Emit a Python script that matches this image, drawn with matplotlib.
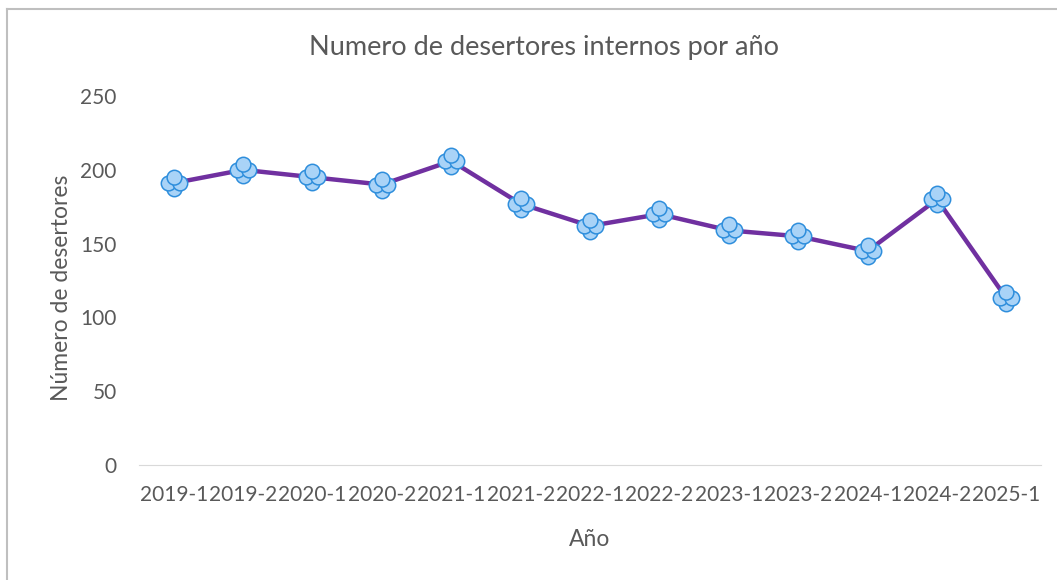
import numpy as np
import matplotlib

matplotlib.use("Agg")
import matplotlib.pyplot as plt
from matplotlib.path import Path
from matplotlib.lines import Line2D


periodos = ["2019-1", "2019-2", "2020-1", "2020-2", "2021-1", "2021-2", "2022-1",
            "2022-2", "2023-1", "2023-2", "2024-1", "2024-2", "2025-1"]
desertores = [191, 200, 195, 190, 206, 177, 162, 170, 159, 155, 145, 180, 113]
y_ticks = [0, 50, 100, 150, 200, 250]

TEXT = "#595959"
LINE = "#7030A0"
FILL = "#A9D3F7"
EDGE = "#2E8EDC"


def petal(dx, dy, r=0.38):
    # one circle of the four-petal marker, offset from the point centre
    c = Path.circle((dx, dy), r)
    return Path(c.vertices, c.codes)


def main():
    plt.rcParams["font.family"] = ["Lato", "DejaVu Sans"]
    fig = plt.figure(figsize=(10.57, 5.8), dpi=100)
    ax = fig.add_axes([0.1315, 0.198, 0.8535, 0.6365])

    x = np.arange(len(periodos))
    ax.plot(x, desertores, color=LINE, linewidth=3.2, solid_capstyle="round", zorder=2)
    for dx, dy in [(0, -0.3), (-0.3, 0), (0.3, 0), (0, 0.3)]:
        ax.plot(x, desertores, linestyle="none", marker=petal(dx, dy), markersize=19,
                markerfacecolor=FILL, markeredgecolor=EDGE, markeredgewidth=1.1, zorder=3)

    ax.set_xlim(-0.5, len(periodos) - 0.5)
    ax.set_ylim(0, 250)
    ax.set_yticks(y_ticks)
    ax.set_xticks(x)
    ax.set_xticklabels(periodos)
    ax.tick_params(axis="both", length=0, colors=TEXT, labelsize=15)
    ax.tick_params(axis="x", pad=14)
    ax.tick_params(axis="y", pad=16)
    for side in ["top", "right", "left"]:
        ax.spines[side].set_visible(False)
    ax.spines["bottom"].set_color("#D9D9D9")

    fig.text(544 / 1057, 1 - 48 / 580, "Numero de desertores internos por año",
             color=TEXT, fontsize=19.5, ha="center", va="center")
    ax.set_xlabel("Año", color=TEXT, fontsize=16.5, va="top")
    ax.xaxis.set_label_coords(0.5, -0.172)
    ax.set_ylabel("Número de desertores", color=TEXT, fontsize=16.5)
    ax.yaxis.set_label_coords(-0.074, 0.48)

    # chart frame: only the top and left edges fall inside the image
    fig.add_artist(Line2D([7 / 1057, 7 / 1057], [0, 1 - 9 / 580], transform=fig.transFigure,
                          color="#BFBFBF", linewidth=1.5))
    fig.add_artist(Line2D([7 / 1057, 1], [1 - 9 / 580, 1 - 9 / 580], transform=fig.transFigure,
                          color="#BFBFBF", linewidth=1.5))

    fig.savefig("out.png", dpi=100)
    plt.close(fig)


if __name__ == "__main__":
    main()
